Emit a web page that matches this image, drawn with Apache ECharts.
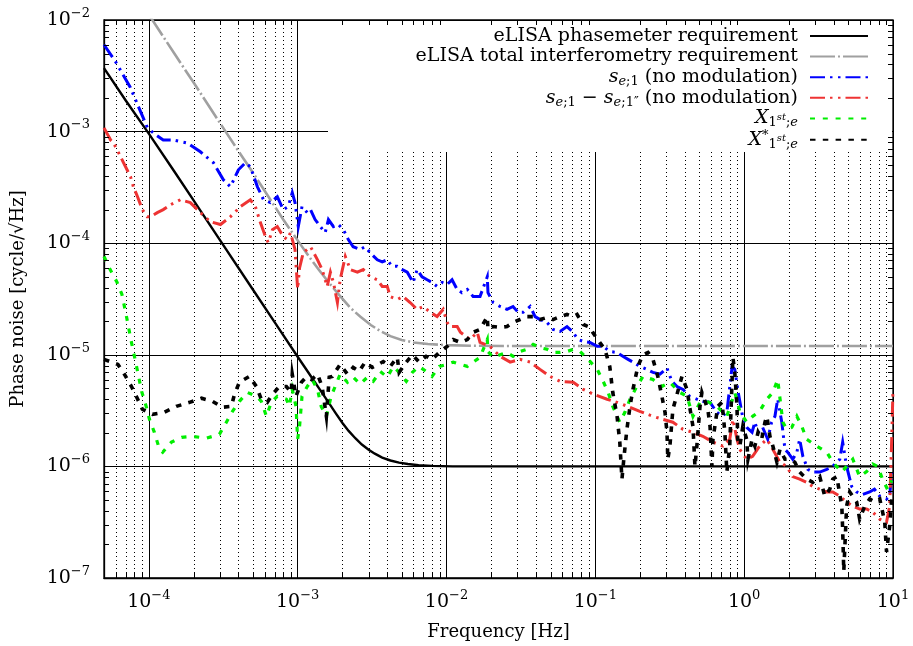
<!DOCTYPE html>
<html><head><meta charset="utf-8">
<script src="https://cdn.jsdelivr.net/npm/echarts@6/dist/echarts.min.js"></script>
<style>html,body{margin:0;padding:0;background:#fff}#c{width:913px;height:646px}</style>
</head><body><div id="c"></div>
<script>
const FONT = 'DejaVu Serif';

const seriesNames = [
  'eLISA phasemeter requirement',
  'eLISA total interferometry requirement',
  's_e;1 (no modulation)',
  's_e;1 - s_e;1\'\' (no modulation)',
  'X_1st;e',
  'X*_1st;e'
];

const legendLabels = [
  '{t|eLISA phasemeter requirement}',
  '{t|eLISA total interferometry requirement}',
  '{i|s}{sub|e}{subr|;1}{t| (no modulation)}',
  '{i|s}{sub|e}{subr|;1}{t| − }{i|s}{sub|e}{subr|;1″}{t| (no modulation)}',
  '{i|X}{subr|1}{ssup|st}{subr|;}{sub|e}',
  '{i|X}{sup|*}{subr|1}{ssup|st}{subr|;}{sub|e}'
];

const xDecades = [-5, -4, -3, -2, -1, 0];
const yDecades = [-7, -6, -5, -4, -3];

const phasemeterReq = [[5e-5,3.7e-3],[7e-5,1.9e-3],[1e-4,9.6e-4],[1.5e-4,4.3e-4],[2e-4,2.42e-4],[3e-4,1.07e-4],[5e-4,3.85e-5],[7e-4,1.96e-5],[1e-3,9.6e-6],[1.12e-3,7.7e-6],[1.25e-3,6.2e-6],[1.4e-3,4.95e-6],[1.6e-3,3.8e-6],[1.8e-3,3.0e-6],[2e-3,2.45e-6],[2.2e-3,2.08e-6],[2.45e-3,1.78e-6],[2.7e-3,1.57e-6],[3e-3,1.41e-6],[3.3e-3,1.3e-6],[3.7e-3,1.2e-6],[4.2e-3,1.13e-6],[4.8e-3,1.08e-6],[5.5e-3,1.05e-6],[6.5e-3,1.025e-6],[8e-3,1.01e-6],[1.1e-2,1.0e-6],[10,1.0e-6]];

const totalReq = [[1.0e-4,1.12e-2],[1.5e-4,4.9e-3],[2e-4,2.75e-3],[3e-4,1.2e-3],[4e-4,6.7e-4],[5e-4,4.3e-4],[6.5e-4,2.5e-4],[8e-4,1.63e-4],[1e-3,1.06e-4],[1.2e-3,7.5e-5],[1.4e-3,5.7e-5],[1.65e-3,4.3e-5],[1.93e-3,3.35e-5],[2.25e-3,2.65e-5],[2.63e-3,2.2e-5],[3.1e-3,1.85e-5],[3.6e-3,1.63e-5],[4.2e-3,1.47e-5],[5e-3,1.36e-5],[6e-3,1.29e-5],[7.5e-3,1.25e-5],[1.0e-2,1.22e-5],[1.5e-2,1.205e-5],[2.5e-2,1.2e-5],[10,1.2e-5]];

const seData = [[5.0e-5,6.0e-3],[6.0e-5,4.2e-3],[7.5e-5,2.5e-3],[9.1e-5,1.36e-3],[9.8e-5,1.08e-3],[1.07e-4,9.75e-4],[1.25e-4,8.4e-4],[1.46e-4,8.4e-4],[1.82e-4,7.9e-4],[2.22e-4,6.6e-4],[2.72e-4,5.25e-4],[3.17e-4,3.7e-4],[3.54e-4,3.2e-4],[4.0e-4,4.55e-4],[4.45e-4,5.25e-4],[4.81e-4,4.85e-4],[5.37e-4,3.2e-4],[5.9e-4,2.45e-4],[6.55e-4,2.31e-4],[7.3e-4,2.61e-4],[8.0e-4,2.0e-4],[8.65e-4,2.13e-4],[9.2e-4,2.84e-4],[9.6e-4,2.31e-4],[1.01e-3,1.41e-4],[1.07e-3,2.13e-4],[1.16e-3,1.88e-4],[1.22e-3,2.0e-4],[1.31e-3,1.63e-4],[1.42e-3,1.41e-4],[1.53e-3,1.24e-4],[1.61e-3,1.63e-4],[1.74e-3,1.41e-4],[1.88e-3,1.47e-4],[2.03e-3,1.32e-4],[2.19e-3,1.08e-4],[2.36e-3,9.3e-5],[2.63e-3,8.8e-5],[2.84e-3,9.3e-5],[3.07e-3,8.2e-5],[3.43e-3,7.1e-5],[3.7e-3,6.8e-5],[4.0e-3,7.1e-5],[4.3e-3,6.2e-5],[4.67e-3,6.2e-5],[5.05e-3,5.8e-5],[5.45e-3,5.5e-5],[5.97e-3,4.45e-5],[6.35e-3,5.8e-5],[6.85e-3,5.0e-5],[7.42e-3,4.7e-5],[8.0e-3,4.45e-5],[8.65e-3,4.1e-5],[9.35e-3,4.45e-5],[1.01e-2,4.27e-5],[1.09e-2,4.7e-5],[1.18e-2,3.85e-5],[1.27e-2,3.6e-5],[1.38e-2,3.85e-5],[1.51e-2,3.33e-5],[1.68e-2,3.33e-5],[1.88e-2,5.0e-5],[1.9e-2,3.6e-5],[2.06e-2,2.94e-5],[2.29e-2,2.71e-5],[2.55e-2,2.55e-5],[2.8e-2,2.71e-5],[3.03e-2,2.4e-5],[3.27e-2,2.4e-5],[3.65e-2,2.71e-5],[3.94e-2,2.2e-5],[4.25e-2,2.07e-5],[4.74e-2,1.95e-5],[5.2e-2,1.69e-5],[5.8e-2,1.62e-5],[6.45e-2,1.79e-5],[7.1e-2,1.59e-5],[7.65e-2,1.37e-5],[8.3e-2,1.32e-5],[9.2e-2,1.29e-5],[0.103,1.19e-5],[0.113,1.19e-5],[0.125,1.07e-5],[0.14,1.05e-5],[0.153,9.7e-6],[0.166,9.1e-6],[0.179,8.6e-6],[0.199,7.87e-6],[0.222,7.4e-6],[0.244,6.96e-6],[0.272,6.7e-6],[0.303,7.6e-6],[0.327,5.78e-6],[0.354,5.2e-6],[0.388,4.9e-6],[0.43,4.25e-6],[0.481,4.0e-6],[0.528,3.83e-6],[0.59,3.75e-6],[0.655,3.05e-6],[0.71,2.81e-6],[0.765,3.05e-6],[0.83,7.87e-6],[0.865,7.4e-6],[0.905,4.9e-6],[0.975,2.81e-6],[1.04,2.24e-6],[1.13,2.02e-6],[1.18,2.49e-6],[1.24,2.02e-6],[1.33,2.24e-6],[1.44,1.75e-6],[1.53,2.49e-6],[1.61,2.81e-6],[1.68,4.0e-6],[1.79,2.49e-6],[1.88,1.42e-6],[1.96,1.34e-6],[2.12,1.16e-6],[2.26,1.34e-6],[2.36,1.75e-6],[2.48,1.23e-6],[2.68,9.4e-7],[2.89,8.9e-7],[3.22,8.9e-7],[3.59,9.4e-7],[3.94,1.0e-6],[4.39,1.16e-6],[4.59,1.65e-6],[4.88,1.0e-6],[5.28,6.6e-7],[5.7,5.9e-7],[6.25,5.6e-7],[6.97,5.9e-7],[7.5,6.25e-7],[8.15,5.4e-7],[9.05,5.1e-7],[9.5,5.4e-7],[9.8,8.9e-7]];

const seDiffData = [[5.0e-5,1.08e-3],[5.54e-5,8.4e-4],[5.8e-5,7.9e-4],[6.47e-5,5.95e-4],[6.77e-5,5.25e-4],[7.54e-5,3.94e-4],[7.88e-5,3.2e-4],[8.4e-5,2.61e-4],[9.05e-5,2.0e-4],[9.75e-5,1.73e-4],[1.03e-4,1.73e-4],[1.14e-4,1.88e-4],[1.25e-4,2.0e-4],[1.4e-4,2.21e-4],[1.63e-4,2.45e-4],[1.9e-4,2.31e-4],[2.22e-4,1.88e-4],[2.59e-4,1.56e-4],[3.03e-4,1.47e-4],[3.54e-4,1.73e-4],[4.13e-4,2.13e-4],[4.81e-4,2.45e-4],[5.2e-4,2.13e-4],[5.62e-4,1.53e-4],[6.07e-4,1.15e-4],[6.35e-4,1.01e-4],[6.77e-4,1.32e-4],[7.3e-4,1.41e-4],[8.0e-4,1.15e-4],[8.5e-4,1.08e-4],[8.95e-4,1.24e-4],[9.6e-4,8.8e-5],[1.0e-3,3.9e-5],[1.03e-3,6.0e-5],[1.09e-3,8.2e-5],[1.22e-3,9.3e-5],[1.36e-3,7.1e-5],[1.46e-3,5.8e-5],[1.58e-3,4.1e-5],[1.66e-3,5.5e-5],[1.74e-3,4.45e-5],[1.85e-3,2.94e-5],[1.93e-3,4.7e-5],[2.09e-3,7.6e-5],[2.26e-3,5.8e-5],[2.52e-3,5.5e-5],[2.76e-3,5.8e-5],[3.07e-3,5.0e-5],[3.43e-3,4.7e-5],[3.7e-3,4.1e-5],[4.0e-3,4.1e-5],[4.19e-3,3.33e-5],[4.67e-3,3.13e-5],[5.12e-3,3.33e-5],[5.7e-3,2.94e-5],[6.35e-3,2.55e-5],[6.97e-3,2.71e-5],[7.8e-3,2.4e-5],[8.65e-3,2.2e-5],[9.5e-3,2.55e-5],[1.01e-2,1.95e-5],[1.06e-2,1.79e-5],[1.18e-2,1.79e-5],[1.24e-2,1.59e-5],[1.44e-2,1.37e-5],[1.61e-2,1.59e-5],[1.68e-2,1.29e-5],[1.96e-2,1.19e-5],[2.29e-2,9.7e-6],[2.68e-2,8.6e-6],[3.12e-2,9.1e-6],[3.65e-2,8.6e-6],[4.25e-2,7.4e-6],[4.97e-2,6.4e-6],[5.8e-2,5.78e-6],[7.1e-2,5.67e-6],[8.3e-2,4.9e-6],[9.75e-2,4.42e-6],[0.12,4.0e-6],[0.14,3.75e-6],[0.171,3.39e-6],[0.199,3.11e-6],[0.244,2.81e-6],[0.284,2.64e-6],[0.332,2.49e-6],[0.388,2.15e-6],[0.453,2.02e-6],[0.528,1.86e-6],[0.617,1.65e-6],[0.72,1.52e-6],[0.8,1.75e-6],[0.84,2.64e-6],[0.895,1.75e-6],[0.935,1.42e-6],[1.04,1.16e-6],[1.14,1.23e-6],[1.27,1.52e-6],[1.42,1.75e-6],[1.56,1.42e-6],[1.74,1.09e-6],[1.93,1.0e-6],[2.12,8.1e-7],[2.36,7.7e-7],[2.63,7.2e-7],[2.89,6.6e-7],[3.22,6.25e-7],[3.59,5.9e-7],[3.94,5.9e-7],[4.39,5.4e-7],[4.88,4.8e-7],[5.37,4.4e-7],[5.97,4.15e-7],[6.65,4.15e-7],[7.3,3.9e-7],[8.15,3.37e-7],[9.05,3.17e-7],[9.5,4.4e-7],[9.8,1.75e-6],[10,4.9e-6]];

const x1stData = [[5.0e-5,7.6e-5],[5.5e-5,5.8e-5],[6.1e-5,4.5e-5],[6.6e-5,3.47e-5],[7.1e-5,2.16e-5],[7.65e-5,1.29e-5],[8.3e-5,7.7e-6],[8.95e-5,4.7e-6],[9.6e-5,3.45e-6],[1.01e-4,2.64e-6],[1.09e-4,2.02e-6],[1.18e-4,1.42e-6],[1.24e-4,1.34e-6],[1.42e-4,1.65e-6],[1.66e-4,1.82e-6],[1.96e-4,1.86e-6],[2.44e-4,1.79e-6],[2.98e-4,1.94e-6],[3.32e-4,2.49e-6],[3.65e-4,3.11e-6],[4.06e-4,3.83e-6],[4.59e-4,4.6e-6],[5.28e-4,4.25e-6],[5.7e-4,3.83e-6],[6.17e-4,2.81e-6],[6.65e-4,3.75e-6],[7.3e-4,4.25e-6],[8.4e-4,4.0e-6],[8.8e-4,3.45e-6],[9.2e-4,4.9e-6],[9.75e-4,3.45e-6],[1.0e-3,1.75e-6],[1.03e-3,2.28e-6],[1.07e-3,4.25e-6],[1.16e-3,5.2e-6],[1.25e-3,6.0e-6],[1.36e-3,4.9e-6],[1.44e-3,3.45e-6],[1.56e-3,2.81e-6],[1.68e-3,4.25e-6],[1.93e-3,6.7e-6],[2.16e-3,5.67e-6],[2.36e-3,6.3e-6],[2.63e-3,5.45e-6],[2.94e-3,6.3e-6],[3.22e-3,5.78e-6],[3.59e-3,7.1e-6],[4.0e-3,6.3e-6],[4.39e-3,7.87e-6],[4.81e-3,6.96e-6],[5.37e-3,5.78e-6],[5.9e-3,6.96e-6],[6.55e-3,7.87e-6],[7.3e-3,7.1e-6],[8.0e-3,6.4e-6],[8.95e-3,7.87e-6],[1.01e-2,8.2e-6],[1.11e-2,8.6e-6],[1.24e-2,8.2e-6],[1.38e-2,7.87e-6],[1.51e-2,8.6e-6],[1.68e-2,9.5e-6],[1.88e-2,1.37e-5],[1.9e-2,1.07e-5],[2.06e-2,9.5e-6],[2.29e-2,1.0e-5],[2.55e-2,1.05e-5],[2.8e-2,9.7e-6],[3.12e-2,1.07e-5],[3.48e-2,1.12e-5],[3.82e-2,1.24e-5],[4.25e-2,1.16e-5],[4.74e-2,1.12e-5],[5.2e-2,1.05e-5],[5.8e-2,1.05e-5],[6.45e-2,1.07e-5],[7.1e-2,1.12e-5],[7.9e-2,1.07e-5],[8.95e-2,9.1e-6],[0.103,7.4e-6],[0.113,5.78e-6],[0.122,4.6e-6],[0.131,3.45e-6],[0.14,2.81e-6],[0.146,2.49e-6],[0.158,3.05e-6],[0.171,4.0e-6],[0.19,5.2e-6],[0.209,6.4e-6],[0.244,6.0e-6],[0.28,5.2e-6],[0.317,5.67e-6],[0.37,4.6e-6],[0.413,4.25e-6],[0.453,2.81e-6],[0.505,3.75e-6],[0.562,3.83e-6],[0.655,3.45e-6],[0.765,2.81e-6],[0.865,4.6e-6],[0.935,3.11e-6],[1.04,2.49e-6],[1.14,2.81e-6],[1.27,3.11e-6],[1.42,4.0e-6],[1.56,4.6e-6],[1.68,6.0e-6],[1.82,2.49e-6],[1.93,2.15e-6],[2.09,2.24e-6],[2.26,2.81e-6],[2.44,2.28e-6],[2.63,1.75e-6],[3.07,1.52e-6],[3.59,1.34e-6],[3.94,1.09e-6],[4.53,8.9e-7],[4.88,1.0e-6],[5.37,1.16e-6],[5.97,8.1e-7],[6.65,9.0e-7],[7.3,1.05e-6],[7.9,1.0e-6],[8.5,7.7e-7],[9.2,6.2e-7],[9.8,7.5e-7]];

const x1stStarData = [[5.0e-5,9.1e-6],[6.2e-5,8.2e-6],[6.85e-5,6.7e-6],[7.65e-5,5.2e-6],[8.3e-5,4.16e-6],[9.05e-5,3.25e-6],[1.06e-4,2.93e-6],[1.27e-4,3.05e-6],[1.53e-4,3.45e-6],[1.88e-4,3.75e-6],[2.26e-4,4.08e-6],[2.68e-4,3.83e-6],[3.12e-4,3.39e-6],[3.59e-4,3.45e-6],[3.76e-4,4.42e-6],[4.06e-4,5.67e-6],[4.74e-4,6.4e-6],[5.28e-4,5.2e-6],[5.7e-4,4.0e-6],[6.25e-4,3.75e-6],[6.77e-4,4.42e-6],[7.54e-4,5.2e-6],[8.4e-4,5.2e-6],[9.05e-4,4.6e-6],[9.2e-4,6.7e-6],[9.75e-4,4.25e-6],[1.06e-3,5.67e-6],[1.14e-3,6.3e-6],[1.24e-3,6.0e-6],[1.36e-3,6.7e-6],[1.46e-3,5.2e-6],[1.56e-3,2.81e-6],[1.63e-3,6.3e-6],[1.71e-3,6.4e-6],[1.93e-3,8.2e-6],[2.16e-3,6.7e-6],[2.36e-3,7.7e-6],[2.59e-3,7.1e-6],[2.84e-3,8.6e-6],[3.17e-3,7.7e-6],[3.48e-3,8.2e-6],[3.76e-3,8.7e-6],[4.19e-3,7.87e-6],[4.67e-3,9.5e-6],[4.81e-3,6.96e-6],[5.37e-3,8.6e-6],[5.9e-3,1.0e-5],[6.55e-3,8.6e-6],[7.3e-3,9.7e-6],[8.0e-3,9.1e-6],[8.95e-3,1.05e-5],[1.01e-2,1.19e-5],[1.11e-2,1.37e-5],[1.24e-2,1.29e-5],[1.38e-2,1.37e-5],[1.51e-2,1.59e-5],[1.68e-2,1.69e-5],[1.88e-2,2.2e-5],[1.9e-2,1.69e-5],[2.06e-2,1.79e-5],[2.29e-2,1.76e-5],[2.55e-2,1.79e-5],[2.8e-2,1.95e-5],[3.12e-2,2.07e-5],[3.48e-2,2.2e-5],[3.82e-2,2.2e-5],[4.25e-2,2.07e-5],[4.74e-2,2.16e-5],[5.2e-2,2.07e-5],[5.8e-2,2.2e-5],[6.45e-2,2.3e-5],[7.1e-2,2.2e-5],[7.54e-2,2.3e-5],[8.3e-2,1.87e-5],[9.2e-2,1.76e-5],[9.6e-2,1.59e-5],[0.107,1.29e-5],[0.116,1.12e-5],[0.125,7.87e-6],[0.131,4.6e-6],[0.14,2.81e-6],[0.146,1.65e-6],[0.151,7.7e-7],[0.156,1.23e-6],[0.163,2.15e-6],[0.171,3.45e-6],[0.179,4.9e-6],[0.193,7.87e-6],[0.209,1.0e-5],[0.226,1.05e-5],[0.244,9.1e-6],[0.263,6.4e-6],[0.28,4.25e-6],[0.294,3.05e-6],[0.303,2.02e-6],[0.307,1.16e-6],[0.317,1.52e-6],[0.332,3.25e-6],[0.382,6.4e-6],[0.413,4.9e-6],[0.43,3.45e-6],[0.453,2.28e-6],[0.467,1.0e-6],[0.481,1.52e-6],[0.505,3.45e-6],[0.52,4.6e-6],[0.57,3.25e-6],[0.59,2.28e-6],[0.607,1.0e-6],[0.617,1.75e-6],[0.665,3.45e-6],[0.71,3.75e-6],[0.742,2.02e-6],[0.765,8.9e-7],[0.8,1.52e-6],[0.83,6.0e-6],[0.84,9.5e-6],[0.865,6.96e-6],[0.895,3.45e-6],[0.905,1.75e-6],[0.935,1.52e-6],[0.98,2.28e-6],[1.04,1.75e-6],[1.06,1.16e-6],[1.13,1.75e-6],[1.18,1.52e-6],[1.24,2.02e-6],[1.31,1.75e-6],[1.38,2.49e-6],[1.42,2.81e-6],[1.49,1.86e-6],[1.56,1.52e-6],[1.66,1.09e-6],[1.74,1.42e-6],[1.88,1.16e-6],[2.03,1.16e-6],[2.19,1.09e-6],[2.36,8.9e-7],[2.63,7.7e-7],[2.89,7.2e-7],[3.22,8.1e-7],[3.48,5.4e-7],[3.76,6.25e-7],[3.94,7.7e-7],[4.19,8.1e-7],[4.53,4.4e-7],[4.59,2.74e-7],[4.67,1.15e-7],[4.88,4.4e-7],[5.12,5.9e-7],[5.7,4.8e-7],[5.97,3.37e-7],[6.45,4.4e-7],[6.97,5.1e-7],[7.5,4.8e-7],[8.15,5.1e-7],[8.8,3.17e-7],[9.05,1.71e-7],[9.5,2.92e-7],[9.8,5.1e-7]];

// ---- derived axis decoration values ----
const xMinorVals = [];
xDecades.forEach(d => { for (let m = 2; m <= 9; m++) { const v = m * Math.pow(10, d); if (v > 5e-5 && v < 10) xMinorVals.push(v); } });
const yMinorVals = [];
yDecades.forEach(d => { for (let m = 2; m <= 9; m++) yMinorVals.push(m * Math.pow(10, d)); });

const X_MIN = 5e-5, X_MAX = 10, Y_MIN = 1e-7, Y_MAX = 1e-2;

function isDecade(v) { const l = Math.log10(v); return Math.abs(l - Math.round(l)) < 1e-6; }
function expLabel(v) {
  if (!isDecade(v)) return '';
  const e = Math.round(Math.log10(v));
  return '{b|10}{e|' + (e < 0 ? '−' + (-e) : String(e)) + '}';
}
const axisRich = {
  b: { fontFamily: FONT, fontSize: 19, color: '#000', lineHeight: 22 },
  e: { fontFamily: FONT, fontSize: 13, color: '#000', padding: [0, 0, 13, 0] }
};

const legendRich = {
  t: { fontFamily: FONT, fontSize: 19, color: '#000' },
  i: { fontFamily: FONT, fontSize: 19, fontStyle: 'italic', color: '#000' },
  sub: { fontFamily: FONT, fontSize: 13, fontStyle: 'italic', color: '#000', padding: [9, 0, 0, 0] },
  subr: { fontFamily: FONT, fontSize: 13, color: '#000', padding: [9, 0, 0, 0] },
  ssup: { fontFamily: FONT, fontSize: 10, fontStyle: 'italic', color: '#000', padding: [0, 0, 2, 0] },
  sup: { fontFamily: FONT, fontSize: 13, color: '#000', padding: [0, 0, 9, 0] }
};

const chart = echarts.init(document.getElementById('c'), null, { renderer: 'canvas' });

const lineStyles = [
  { color: '#000000', width: 2.4, type: 'solid' },
  { color: '#a0a0a0', width: 2.6, type: [25, 3, 2, 3] },
  { color: '#0000ff', width: 3, type: [15, 5, 2.5, 5.5, 2.5, 5] },
  { color: '#ee3333', width: 3, type: [15, 5, 2.5, 5.5, 2.5, 5] },
  { color: '#00ee00', width: 3.2, type: [5, 7.8] },
  { color: '#000000', width: 3.6, type: [5.5, 7.3] }
];
const dataSets = [phasemeterReq, totalReq, seData, seDiffData, x1stData, x1stStarData];

const series = dataSets.map((d, i) => ({
  name: seriesNames[i],
  type: 'line',
  data: d,
  symbol: 'none',
  showSymbol: false,
  clip: true,
  z: 2 + i * 0.01,
  color: lineStyles[i].color,
  lineStyle: { color: lineStyles[i].color, width: lineStyles[i].width, type: lineStyles[i].type, cap: 'butt', join: 'miter' },
  emphasis: { disabled: true },
  animation: false
}));

// minor dotted vertical grid lines
series.unshift({
  name: 'minorGrid', type: 'custom', silent: true, animation: false, z: 1, clip: false,
  data: xMinorVals.map(v => [v, Y_MIN]),
  encode: { x: 0, y: 1 },
  renderItem: function (params, api) {
    const p = api.coord([api.value(0), api.value(1)]);
    const cs = params.coordSys;
    const x = Math.round(p[0]) + 0.5;
    return { type: 'line', shape: { x1: x, y1: cs.y, x2: x, y2: cs.y + cs.height },
      style: { stroke: '#000', lineWidth: 1, lineDash: [1, 3] } };
  }
});

// y minor ticks (left & right), x minor ticks (top & bottom)
series.push({
  name: 'yTicks', type: 'custom', silent: true, animation: false, z: 6, clip: false,
  data: yMinorVals.map(v => [X_MIN, v]),
  encode: { x: 0, y: 1 },
  renderItem: function (params, api) {
    const p = api.coord([api.value(0), api.value(1)]);
    const cs = params.coordSys;
    const len = 5;
    const right = cs.x + cs.width;
    const y = Math.round(p[1]) + 0.5;
    return { type: 'group', children: [
      { type: 'line', shape: { x1: cs.x, y1: y, x2: cs.x + len, y2: y }, style: { stroke: '#000', lineWidth: 1 } },
      { type: 'line', shape: { x1: right - len, y1: y, x2: right, y2: y }, style: { stroke: '#000', lineWidth: 1 } }
    ]};
  }
});
series.push({
  name: 'xTicks', type: 'custom', silent: true, animation: false, z: 6, clip: false,
  data: xMinorVals.map(v => [v, Y_MAX]),
  encode: { x: 0, y: 1 },
  renderItem: function (params, api) {
    const p = api.coord([api.value(0), api.value(1)]);
    const cs = params.coordSys;
    const len = 5;
    const x = Math.round(p[0]) + 0.5;
    return { type: 'group', children: [
      { type: 'line', shape: { x1: x, y1: cs.y, x2: x, y2: cs.y + len }, style: { stroke: '#000', lineWidth: 1 } },
      { type: 'line', shape: { x1: x, y1: cs.y + cs.height - len, x2: x, y2: cs.y + cs.height }, style: { stroke: '#000', lineWidth: 1 } }
    ]};
  }
});

const rowTop = 38.5, rowStep = 20.65, itemH = 26;
const legends = seriesNames.map((n, i) => ({
  data: [n],
  orient: 'horizontal',
  align: 'right',
  right: 44,
  top: rowTop + i * rowStep - itemH / 2,
  itemWidth: 58,
  itemHeight: itemH,
  padding: 0,
  itemGap: 0,
  selectedMode: false,
  z: 7,
  itemStyle: { color: 'rgba(0,0,0,0)', borderColor: 'rgba(0,0,0,0)', borderWidth: 0, opacity: 0 },
  formatter: () => legendLabels[i],
  textStyle: { fontFamily: FONT, fontSize: 19, color: '#000', padding: [0, 7, 0, 0], rich: legendRich }
}));

chart.setOption({
  animation: false,
  backgroundColor: '#fff',
  grid: { left: 104, right: 20, top: 20, bottom: 67, show: true, borderColor: '#000', borderWidth: 1.3, backgroundColor: 'transparent' },
  graphic: [{ type: 'rect', z: 5, silent: true, shape: { x: 328, y: 21, width: 564, height: 131 }, style: { fill: '#fff' } }],
  legend: legends,
  xAxis: {
    type: 'log', min: X_MIN, max: X_MAX, logBase: 10,
    name: 'Frequency [Hz]', nameLocation: 'middle', nameGap: 45,
    nameTextStyle: { fontFamily: FONT, fontSize: 18, color: '#000' },
    axisLine: { show: true, lineStyle: { color: '#000', width: 1.3 } },
    axisTick: { show: false },
    splitLine: { show: true, lineStyle: { color: '#000', width: 1, type: 'solid' } },
    axisLabel: { margin: 11, showMinLabel: false, formatter: expLabel, rich: axisRich, color: '#000' }
  },
  yAxis: {
    type: 'log', min: Y_MIN, max: Y_MAX, logBase: 10,
    name: 'Phase noise [cycle/√Hz]', nameLocation: 'middle', nameGap: 77,
    nameTextStyle: { fontFamily: FONT, fontSize: 18, color: '#000' },
    axisLine: { show: true, lineStyle: { color: '#000', width: 1.3 } },
    axisTick: { show: false },
    splitLine: { show: true, lineStyle: { color: '#000', width: 1, type: 'solid' } },
    axisLabel: { margin: 14, formatter: expLabel, rich: axisRich, color: '#000' }
  },
  series: series
});
</script></body></html>
